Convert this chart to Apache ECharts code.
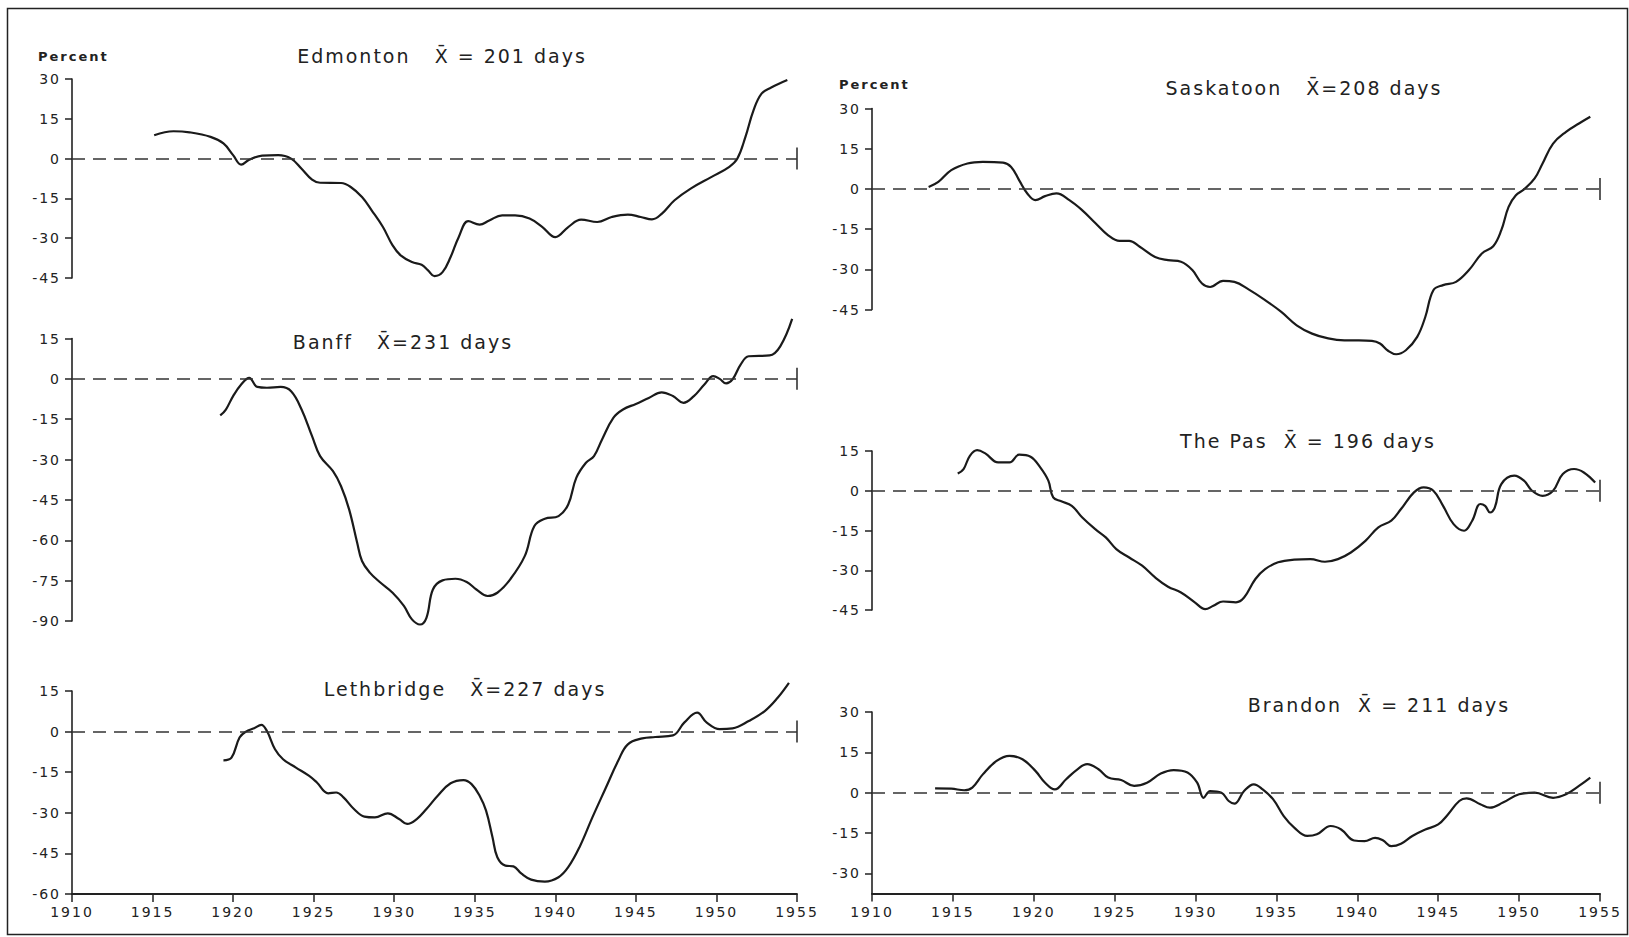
<!DOCTYPE html>
<html>
<head>
<meta charset="utf-8">
<script src="https://cdn.jsdelivr.net/npm/echarts@6/dist/echarts.min.js"></script>
<style>
  html, body { margin: 0; padding: 0; background: #fff; }
  #chart { width: 1629px; height: 937px; letter-spacing: 2px; }
</style>
</head>
<body>
<div id="chart"></div>
<script>
// ---- Data: [year, percent departure] ----
const edmonton = [[1915.1,8.8],[1916.3,10.3],[1917.3,9.9],[1918.6,8.2],[1919.4,5.7],[1920.0,1.3],[1920.5,-2.3],[1921.0,-0.4],[1921.8,1.1],[1922.8,1.3],[1923.6,0],[1924.25,-3.8],[1924.9,-7.9],[1925.4,-9.1],[1926.7,-9.2],[1927.3,-10.7],[1928.0,-14.5],[1928.6,-19.5],[1929.3,-25.8],[1929.9,-32.7],[1930.4,-36.5],[1931.1,-39.0],[1931.7,-40.0],[1932.1,-42.1],[1932.5,-44.3],[1933.0,-42.8],[1933.5,-37.1],[1934.0,-29.6],[1934.6,-23.6],[1935.3,-24.9],[1935.9,-23.3],[1936.7,-21.4],[1937.5,-21.4],[1938.4,-22.6],[1939.2,-25.8],[1940.0,-29.6],[1940.8,-25.8],[1941.6,-23.0],[1942.6,-23.9],[1943.5,-22.0],[1944.5,-21.1],[1945.3,-22.0],[1946.0,-22.9],[1946.6,-20.8],[1947.4,-15.7],[1948.4,-11.3],[1949.7,-6.9],[1950.8,-3.1],[1951.3,0],[1951.8,8.2],[1952.3,18.2],[1952.8,24.5],[1953.4,26.8],[1954.4,29.6]];

const banff = [[1919.2,-13.6],[1919.55,-11.4],[1920.0,-6.4],[1920.5,-2.1],[1921.0,0.4],[1921.5,-3.0],[1922.1,-3.3],[1922.95,-3.0],[1923.6,-4.6],[1924.25,-11.4],[1924.9,-21.3],[1925.4,-28.7],[1926.2,-34.3],[1926.7,-39.9],[1927.2,-48.5],[1927.7,-60.9],[1928.0,-67.7],[1928.5,-72.1],[1929.1,-75.5],[1929.9,-79.5],[1930.6,-84.4],[1931.1,-89.4],[1931.6,-91.3],[1932.0,-88.8],[1932.4,-78.3],[1933.0,-74.9],[1933.8,-74.3],[1934.5,-75.5],[1935.1,-78.3],[1935.8,-80.7],[1936.4,-79.5],[1937.2,-74.5],[1938.1,-65.9],[1938.7,-54.7],[1939.35,-52.0],[1940.2,-51.0],[1940.8,-46.7],[1941.3,-36.8],[1941.9,-31.2],[1942.4,-28.7],[1942.9,-22.5],[1943.6,-14.5],[1944.2,-11.4],[1945.0,-9.3],[1945.8,-7.1],[1946.6,-5.0],[1947.3,-6.4],[1947.95,-8.9],[1948.6,-6.4],[1949.25,-2.1],[1949.8,1.0],[1950.2,0],[1950.6,-1.7],[1951.0,-0.2],[1951.5,5.3],[1952.0,8.4],[1953.3,8.7],[1953.96,12.1],[1954.7,22.3]];

const lethbridge = [[1919.4,-10.6],[1919.9,-9.6],[1920.4,-2.2],[1920.8,0],[1921.3,1.2],[1921.75,2.5],[1922.1,0.2],[1922.6,-6.5],[1923.1,-10.2],[1923.9,-13.3],[1924.7,-16.3],[1925.2,-18.8],[1925.9,-22.8],[1926.4,-22.5],[1926.85,-24.3],[1927.5,-28.6],[1928.15,-31.4],[1928.8,-31.7],[1929.6,-30.2],[1930.3,-32.3],[1930.8,-34.1],[1931.4,-32.3],[1932.0,-28.6],[1932.7,-23.7],[1933.5,-19.1],[1934.3,-17.9],[1934.8,-19.4],[1935.3,-23.7],[1935.7,-29.2],[1936.1,-39.0],[1936.4,-46.4],[1936.9,-49.5],[1937.4,-49.8],[1937.9,-52.5],[1938.5,-54.7],[1939.35,-55.4],[1940.2,-53.8],[1940.8,-50.1],[1941.5,-42.7],[1942.3,-31.7],[1943.1,-21.2],[1943.9,-10.8],[1944.5,-4.7],[1945.4,-2.5],[1946.2,-2.0],[1947.3,-1.4],[1948.0,3.3],[1948.8,7.0],[1949.4,3.3],[1950.2,0.9],[1951.0,1.2],[1952.0,3.9],[1953.0,7.6],[1953.8,12.5],[1954.5,18.0]];

const saskatoon = [[1913.5,0.7],[1914.1,2.6],[1914.9,7.0],[1915.9,9.5],[1916.85,10.1],[1918.1,9.8],[1918.6,8.2],[1919.1,3.2],[1919.6,-1.7],[1920.1,-4.2],[1920.7,-2.7],[1921.4,-1.7],[1922.2,-4.2],[1923.0,-8.0],[1923.8,-12.7],[1924.6,-17.3],[1925.3,-19.4],[1925.9,-19.4],[1926.55,-21.6],[1927.5,-25.4],[1928.3,-26.6],[1929.1,-27.2],[1929.8,-30.3],[1930.4,-35.3],[1930.9,-36.6],[1931.7,-34.3],[1932.4,-34.7],[1933.3,-37.6],[1934.3,-41.5],[1935.3,-45.9],[1936.25,-50.9],[1937.2,-54.0],[1938.2,-55.8],[1939.2,-56.5],[1940.1,-56.5],[1940.9,-56.7],[1941.4,-57.7],[1941.9,-60.4],[1942.4,-61.7],[1943.0,-60.2],[1943.7,-55.2],[1944.2,-47.8],[1944.7,-37.8],[1945.3,-35.9],[1946.1,-34.7],[1946.9,-30.3],[1947.7,-24.1],[1948.4,-21.4],[1948.9,-15.4],[1949.35,-6.7],[1949.8,-2.4],[1950.3,-0.2],[1950.96,3.9],[1951.45,9.5],[1952.1,16.9],[1952.9,21.3],[1953.7,24.4],[1954.4,26.9]];

const thePas = [[1915.3,6.5],[1915.66,8.2],[1916.05,13.2],[1916.5,15.3],[1917.0,14.1],[1917.8,10.7],[1918.5,10.7],[1919.1,13.6],[1919.8,12.8],[1920.4,8.8],[1920.9,3.8],[1921.2,-2.5],[1921.7,-4.0],[1922.35,-5.7],[1923.0,-10.1],[1923.8,-14.5],[1924.45,-17.6],[1925.1,-22.0],[1925.9,-25.2],[1926.7,-28.3],[1927.5,-32.7],[1928.3,-36.2],[1929.1,-38.4],[1929.95,-42.1],[1930.6,-44.7],[1931.1,-43.4],[1931.7,-41.8],[1932.5,-42.1],[1933.0,-40.3],[1933.7,-33.3],[1934.3,-29.6],[1935.1,-27.0],[1936.1,-26.0],[1937.1,-25.8],[1938.0,-26.8],[1938.8,-25.8],[1939.6,-23.3],[1940.5,-18.9],[1941.3,-13.8],[1942.1,-11.3],[1942.7,-6.9],[1943.5,-0.6],[1944.1,1.3],[1944.7,0],[1945.3,-5.7],[1945.95,-12.6],[1946.6,-15.1],[1947.1,-11.3],[1947.6,-5.0],[1947.9,-5.7],[1948.2,-8.2],[1948.5,-6.3],[1948.9,2.5],[1949.7,5.7],[1950.3,3.8],[1950.8,0],[1951.45,-1.9],[1952.1,0],[1952.7,6.3],[1953.4,8.2],[1954.0,6.9],[1954.7,3.1]];

const brandon = [[1913.9,1.6],[1914.9,1.5],[1915.7,0.9],[1916.2,1.9],[1916.85,6.8],[1917.7,11.8],[1918.5,13.7],[1919.3,12.4],[1920.1,8.1],[1920.7,3.7],[1921.3,1.2],[1922.0,5.0],[1922.7,8.7],[1923.3,10.6],[1924.0,8.7],[1924.6,5.6],[1925.4,4.7],[1926.2,2.5],[1927.0,3.7],[1927.85,7.1],[1928.65,8.4],[1929.5,7.5],[1930.1,3.7],[1930.5,-1.9],[1930.9,0.6],[1931.6,0],[1932.05,-3.1],[1932.4,-4.1],[1933.0,0.6],[1933.6,3.1],[1934.15,1.2],[1934.8,-2.5],[1935.45,-8.7],[1936.1,-13.0],[1936.9,-16.1],[1937.5,-15.5],[1938.35,-12.4],[1939.0,-13.7],[1939.8,-17.8],[1940.45,-18.0],[1941.1,-16.8],[1941.6,-17.8],[1942.1,-19.9],[1942.7,-19.0],[1943.4,-16.1],[1944.2,-13.7],[1945.0,-11.8],[1945.6,-8.1],[1946.3,-3.1],[1946.75,-2.1],[1947.6,-4.3],[1948.2,-5.6],[1949.0,-3.7],[1950.0,-0.6],[1950.96,0],[1952.1,-1.9],[1952.9,-0.6],[1953.7,2.5],[1954.4,5.6]];

// ---- Tick labels ----
const yearTicks = [1910, 1915, 1920, 1925, 1930, 1935, 1940, 1945, 1950, 1955];
const edmontonTicks = [30, 15, 0, -15, -30, -45];
const banffTicks = [15, 0, -15, -30, -45, -60, -75, -90];
const lethbridgeTicks = [15, 0, -15, -30, -45, -60];
const saskatoonTicks = [30, 15, 0, -15, -30, -45];
const thePasTicks = [15, 0, -15, -30, -45];
const brandonTicks = [30, 15, 0, -15, -30];

// ---- Titles ----
const titles = [
  'Edmonton   X\u0304 = 201 days',
  'Banff   X\u0304=231 days',
  'Lethbridge   X\u0304=227 days',
  'Saskatoon   X\u0304=208 days',
  'The Pas  X\u0304 = 196 days',
  'Brandon  X\u0304 = 211 days'
];

const FONT = 'DejaVu Sans';
const INK = '#222';

const panels = [
  { data: edmonton,   ticks: edmontonTicks,   min: -45,   max: 30, grid: { left: 72,  top: 79,    width: 725, height: 199 },   bottom: false, title: [442, 56] },
  { data: banff,      ticks: banffTicks,      min: -90,   max: 15, grid: { left: 72,  top: 338.5, width: 725, height: 282.5 }, bottom: false, title: [403, 342] },
  { data: lethbridge, ticks: lethbridgeTicks, min: -60,   max: 15, grid: { left: 72,  top: 691,   width: 725, height: 203 },   bottom: true,  title: [465, 689] },
  { data: saskatoon,  ticks: saskatoonTicks,  min: -45,   max: 30, grid: { left: 872, top: 108.5, width: 728, height: 201 },   bottom: false, title: [1304, 88] },
  { data: thePas,     ticks: thePasTicks,     min: -45,   max: 15, grid: { left: 872, top: 451,   width: 728, height: 159 },   bottom: false, title: [1308, 441] },
  { data: brandon,    ticks: brandonTicks,    min: -37.5, max: 30, grid: { left: 872, top: 712,   width: 728, height: 181.5 }, bottom: true,  title: [1379, 705] }
];

const grids = [], xAxes = [], yAxes = [], series = [], graphics = [];

panels.forEach((p, i) => {
  grids.push(Object.assign({ containLabel: false }, p.grid));
  if (p.bottom) {
    xAxes.push({
      gridIndex: i, type: 'value', min: 1910, max: 1955, interval: 5,
      axisLine: { show: true, onZero: false, lineStyle: { color: INK, width: 1.8 } },
      axisTick: { show: true, length: 8, customValues: yearTicks, lineStyle: { color: INK, width: 1.5 } },
      axisLabel: { show: true, customValues: yearTicks, fontSize: 14, fontFamily: FONT, color: INK, margin: 11, formatter: v => String(v) },
      splitLine: { show: false }
    });
  } else {
    xAxes.push({ gridIndex: i, type: 'value', min: 1910, max: 1955, show: false, splitLine: { show: false } });
  }
  yAxes.push({
    gridIndex: i, type: 'value', min: p.min, max: p.max,
    axisLine: { show: true, onZero: false, lineStyle: { color: INK, width: 1.6 } },
    axisTick: { show: true, length: 7, customValues: p.ticks, lineStyle: { color: INK, width: 1.5 } },
    axisLabel: { show: true, customValues: p.ticks, fontSize: 14, fontFamily: FONT, color: INK, margin: 11, formatter: v => String(v) },
    splitLine: { show: false }
  });
  series.push({
    type: 'line', xAxisIndex: i, yAxisIndex: i, data: p.data,
    smooth: 0.4, symbol: 'none', clip: false, silent: true,
    lineStyle: { color: '#1a1a1a', width: 2.2 },
    markLine: {
      silent: true, symbol: 'none', label: { show: false },
      lineStyle: { color: '#333', width: 1.6, type: [13, 8] },
      data: [[{ coord: [1910, 0] }, { coord: [1955, 0] }]]
    },
    markPoint: {
      silent: true, symbol: 'rect', symbolSize: [1.6, 22], label: { show: false },
      itemStyle: { color: '#333' },
      data: [{ coord: [1955, 0] }]
    }
  });
  graphics.push({
    type: 'text', x: p.title[0], y: p.title[1], silent: true,
    style: { text: titles[i], fontSize: 19, fontFamily: FONT, fill: INK, textAlign: 'center', textVerticalAlign: 'middle' }
  });
});

graphics.push({ type: 'text', x: 38, y: 56, silent: true,
  style: { text: 'Percent', fontSize: 13, fontWeight: 'bold', fontFamily: FONT, fill: INK, textAlign: 'left', textVerticalAlign: 'middle' } });
graphics.push({ type: 'text', x: 839, y: 84, silent: true,
  style: { text: 'Percent', fontSize: 13, fontWeight: 'bold', fontFamily: FONT, fill: INK, textAlign: 'left', textVerticalAlign: 'middle' } });
graphics.push({ type: 'rect', silent: true, z: -1,
  shape: { x: 7.5, y: 8.5, width: 1620, height: 926 },
  style: { fill: 'none', stroke: INK, lineWidth: 1.5 } });

const chart = echarts.init(document.getElementById('chart'), null, { renderer: 'svg', width: 1629, height: 937 });
chart.setOption({
  animation: false,
  backgroundColor: '#fff',
  grid: grids,
  xAxis: xAxes,
  yAxis: yAxes,
  series: series,
  graphic: graphics
});
</script>
</body>
</html>
